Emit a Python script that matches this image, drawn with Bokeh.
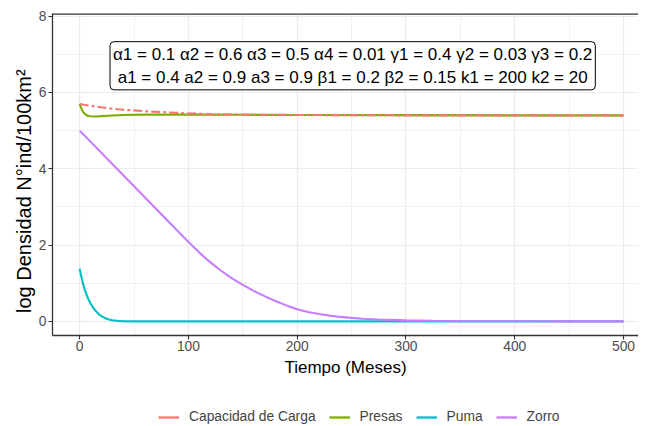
from bokeh.plotting import figure
from bokeh.layouts import column
from bokeh.models import (Range1d, Span, Label, Legend, LegendItem, FixedTicker)
from bokeh.embed import file_html
from bokeh.resources import INLINE

# ---- data ----
t_carga = [0, 5, 10, 18, 25, 35, 50, 65, 80, 100, 125, 150, 200, 250, 300, 400, 500]
carga = [5.70, 5.67, 5.65, 5.62, 5.59, 5.56, 5.53, 5.50, 5.48, 5.45, 5.43, 5.42, 5.41, 5.405, 5.40, 5.40, 5.40]

t_presas = [0, 1, 2, 3, 4, 6, 8, 10, 13, 16, 20, 30, 40, 60, 100, 150, 200, 300, 400, 500]
presas = [5.70, 5.62, 5.55, 5.50, 5.46, 5.41, 5.385, 5.375, 5.37, 5.372, 5.38, 5.395, 5.41, 5.42, 5.42, 5.415, 5.41, 5.405, 5.40, 5.40]

t_puma = [0, 2, 4, 6, 8, 10, 12, 14, 16, 18, 20, 23, 26, 30, 35, 40, 50, 60, 100, 200, 300, 400, 500]
puma = [1.38, 1.11, 0.89, 0.72, 0.58, 0.47, 0.375, 0.30, 0.235, 0.18, 0.14, 0.09, 0.055, 0.03, 0.013, 0.005, 0.001, 0.0, 0.0, 0.0, 0.0, 0.0, 0.0]

t_zorro = [0, 50, 80, 90, 100, 110, 120, 130, 140, 150, 160, 170, 180, 190, 200,
           210, 220, 230, 240, 250, 260, 275, 300, 325, 350, 400, 450, 500]
zorro = [5.00, 3.54, 2.664, 2.372, 2.08, 1.803, 1.552, 1.327, 1.128, 0.955, 0.80, 0.661, 0.534, 0.419, 0.318,
         0.247, 0.193, 0.150, 0.117, 0.091, 0.071, 0.049, 0.026, 0.014, 0.0075, 0.002, 0.0005, 0.0001]

x_ticks = [0, 100, 200, 300, 400, 500]
x_minor = [-50, 50, 150, 250, 350, 450, 550]
y_ticks = [0, 2, 4, 6, 8]
y_minor = [1, 3, 5, 7]
series_names = ["Capacidad de Carga", "Presas", "Puma", "Zorro"]
series_colors = ["#F8766D", "#7CAE00", "#00BFC4", "#C77CFF"]

label_text = ("\u03b11 = 0.1 \u03b12 = 0.6 \u03b13 = 0.5 \u03b14 = 0.01 \u03b31 = 0.4 \u03b32 = 0.03 \u03b33 = 0.2\n"
              "a1 = 0.4 a2 = 0.9 a3 = 0.9 \u03b21 = 0.2 \u03b22 = 0.15 k1 = 200 k2 = 20")
label_x, label_y = 251, 6.7

X_START, X_END = -25, 513.8
Y_START, Y_END = -0.37, 8.07

FONT = "Liberation Sans"
W = 638

p = figure(frame_width=586, frame_height=322, output_backend="svg", toolbar_location=None,
           x_range=Range1d(X_START, X_END), y_range=Range1d(Y_START, Y_END),
           min_border_top=13, min_border_right=0, min_border_left=52, min_border_bottom=70)
p.background_fill_color = "white"
p.border_fill_color = "white"
p.outline_line_color = None

for ax in [p.xaxis[0], p.yaxis[0]]:
    ax.axis_line_color = "#333333"
    ax.axis_line_width = 1.3
    ax.major_tick_line_color = "#333333"
    ax.major_tick_line_width = 1.1
    ax.major_tick_out = 4
    ax.major_tick_in = 0
    ax.minor_tick_out = 0
    ax.minor_tick_in = 0
    ax.major_label_text_font = FONT
    ax.major_label_text_font_size = "13.8px"
    ax.major_label_text_color = "#4D4D4D"
    ax.axis_label_text_font = FONT
    ax.axis_label_text_font_size = "17px"
    ax.axis_label_text_font_style = "normal"
    ax.axis_label_text_color = "black"

p.xaxis.ticker = FixedTicker(ticks=x_ticks, minor_ticks=x_minor)
p.yaxis.ticker = FixedTicker(ticks=y_ticks, minor_ticks=y_minor)
p.xaxis.axis_label = "Tiempo (Meses)"
p.yaxis.axis_label = "log Densidad N\u00b0ind/100km\u00b2" + "\u00a0" * 6
p.yaxis.axis_label_text_font_size = "20px"
p.xaxis.major_label_standoff = 1
p.xaxis.axis_label_standoff = 4
p.yaxis.major_label_standoff = 2
p.yaxis.axis_label_standoff = 1

for g in [p.xgrid[0], p.ygrid[0]]:
    g.grid_line_color = "#EBEBEB"
    g.grid_line_width = 1.2
    g.minor_grid_line_color = "#EBEBEB"
    g.minor_grid_line_width = 0.7

p.add_layout(Span(location=Y_END, dimension="width", line_color="#333333", line_width=2.4))

r_presas = p.line(t_presas, presas, line_color=series_colors[1], line_width=2.1)
r_puma = p.line(t_puma, puma, line_color=series_colors[2], line_width=2.1)
r_zorro = p.line(t_zorro, zorro, line_color=series_colors[3], line_width=2.1)
r_carga = p.line(t_carga, carga, line_color=series_colors[0], line_width=2.1, line_dash="9 3 3 3")

lab = Label(x=label_x, y=label_y, text=label_text, text_align="center", text_baseline="middle",
            text_font=FONT, text_font_size="17px", text_color="black",
            border_line_color="black", border_line_width=1, background_fill_color="white",
            padding=3, border_radius=4, text_line_height=1.22)
p.add_layout(lab)

# ---- legend strip below the chart (key lines use the same series, drawn out of view) ----
lg = figure(width=W, height=21, output_backend="svg", toolbar_location=None,
            x_axis_type=None, y_axis_type=None, x_range=Range1d(X_START, X_END), y_range=Range1d(-100, -99),
            min_border=0, min_border_left=0, min_border_right=0, min_border_top=0, min_border_bottom=0)
lg.outline_line_color = None
lg.xgrid.visible = False
lg.ygrid.visible = False
key_data = [(t_carga, carga), (t_presas, presas), (t_puma, puma), (t_zorro, zorro)]
keys = [lg.line(tx, vy, line_color=c, line_width=2.3) for (tx, vy), c in zip(key_data, series_colors)]
legend = Legend(items=[LegendItem(label=n, renderers=[k]) for n, k in zip(series_names, keys)],
                orientation="horizontal", location=(106, 2), border_line_color=None,
                background_fill_alpha=0, label_text_font=FONT, label_text_font_size="13.8px",
                glyph_width=21, glyph_height=14, label_standoff=10, spacing=13, padding=1, margin=0,
                label_height=14)
lg.add_layout(legend)

layout = column(p, lg, spacing=0)
open("out.html", "w").write(file_html(layout, INLINE))
